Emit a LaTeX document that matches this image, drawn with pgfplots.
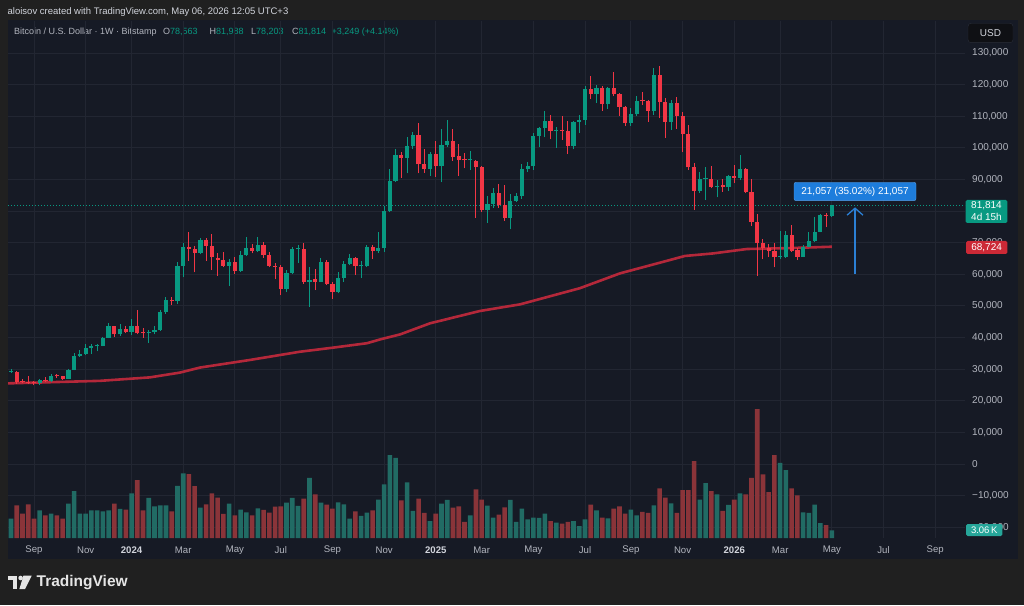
\documentclass[border=0pt]{standalone}
\usepackage{fontspec}
\setmainfont{Liberation Sans}
\usepackage{pgfplots}
\pgfplotsset{compat=1.18}
\usepackage{pgfplotstable}
\usetikzlibrary{arrows.meta}

\definecolor{outerbg}{HTML}{202020}
\definecolor{panelbg}{HTML}{161A25}
\definecolor{gridc}{HTML}{222632}
\definecolor{tvtext}{HTML}{B2B5BE}
\definecolor{tvbright}{HTML}{D1D4DC}
\definecolor{tvgreen}{HTML}{089981}
\definecolor{tvred}{HTML}{F23645}
\definecolor{volgreen}{HTML}{216B64}
\definecolor{volred}{HTML}{8A3439}
\definecolor{maline}{HTML}{B4283A}
\definecolor{lblred}{HTML}{CC2936}
\definecolor{lblteal}{HTML}{26A69A}
\definecolor{tvblue}{HTML}{1E7DDC}
\definecolor{arrowblue}{HTML}{2B7FD4}
\definecolor{usdbg}{HTML}{0F1014}
\definecolor{usdborder}{HTML}{2A2E39}

\newcommand\fs[1]{\fontsize{#1}{#1}\selectfont}

% weekly candles, week index i = 0 is the week of 7 Aug 2023; V in thousands of BTC
\pgfplotstableread{
i O H L C V
0 29050 29950 28750 29250 7.7
5 25650 26900 24900 26450 11.0
7 26200 28600 26000 27900 9.7
10 26900 30200 26800 29700 13.7
11 29700 35100 29600 34200 18.6
12 34200 35900 33900 34800 9.7
13 34800 37900 34500 36600 9.7
14 36600 38000 34900 37200 11.0
15 37200 38100 35600 37400 11.0
16 37300 40300 37200 39800 10.6
17 39800 44500 39700 43500 11.0
19 41000 44400 40600 42700 11.6
21 41900 45900 40800 43600 17.7
24 41400 42300 38200 41600 16.0
25 41700 43800 41000 42400 12.6
26 42300 48600 42100 48000 13.0
27 48000 52700 47400 51900 13.0
29 51500 64000 50700 62700 20.7
30 62700 69800 59000 68500 25.7
33 66800 71600 66300 70800 12.1
38 62700 64700 56300 63800 13.7
40 61200 67500 60700 66000 11.3
41 66000 71900 65800 68300 10.2
43 67500 71900 67000 69300 11.8
48 55400 61400 54300 60500 14.1
49 60500 68600 60000 67900 16.0
50 67900 69300 63500 68000 12.8
52 57700 62400 49600 58200 23.9
54 57700 65000 57500 64000 14.1
57 54500 60600 54000 58900 14.2
58 58900 64100 57500 63300 13.4
59 63300 66500 62800 65300 7.7
61 62500 64300 58800 62700 8.8
62 62700 69400 62400 68600 10.1
64 67500 73300 66800 68200 15.3
65 68200 81500 66900 80000 21.3
66 80000 93400 79600 89500 33.0
67 89500 99500 89300 97600 31.9
69 96900 103300 91900 100700 22.1
70 100700 105000 99500 104100 10.8
73 93200 98800 91100 98000 6.7
75 94100 106000 89100 100900 13.7
76 100900 108800 100400 102300 15.2
80 96000 99100 93000 96300 9.0
83 80400 84900 76300 82300 12.9
84 82300 87400 80900 85600 8.1
87 77900 85300 74200 83300 15.2
88 83300 85800 82800 84900 6.4
89 84900 95000 83900 93300 11.7
90 93300 95400 92500 94100 7.4
91 94100 104600 93000 103800 8.1
92 103800 106500 100400 106200 8.0
93 106200 111700 103300 108600 9.7
95 105300 106700 100100 105700 6.1
98 100600 108600 99500 108100 6.7
99 108100 110400 104800 108800 4.7
100 108800 119500 107200 118600 7.4
102 116900 119900 114300 119000 11.0
104 113800 119400 112300 119000 7.8
108 107800 112700 106900 110600 11.3
109 110600 116400 110000 114900 9.0
112 111700 125200 110500 123000 13.0
115 108300 115100 105700 114100 13.8
120 86500 92500 85800 90000 15.3
121 90000 93800 83500 90200 21.8
123 87700 89800 84300 88000 17.3
125 87500 91400 86500 91100 13.2
127 90600 97700 89800 93200 17.7
134 65400 73800 64700 65800 29.9
135 65600 73800 65300 72400 27.0
138 65600 69300 65400 68700 10.2
139 68700 73500 68500 70500 10.0
140 70500 78000 70300 73500 13.3
141 73500 79000 73300 78700 5.9
143 78563 81988 78203 81814 3.06
}\upT

\pgfplotstableread{
i O H L C V
1 29250 29500 25400 26000 13.0
2 26050 26800 25500 25850 9.7
3 25900 27800 25300 25750 13.4
4 25800 26100 24900 25650 7.7
6 26500 27400 26000 26200 9.0
8 27950 28500 27200 27750 9.0
9 27750 27900 26600 26900 7.7
18 43500 43600 40200 41000 13.7
20 42700 43600 41300 41900 11.3
22 43600 48700 41000 41300 23.0
23 41500 43100 39900 41300 11.0
28 51900 52700 50300 51500 10.6
31 68500 73500 64300 68100 25.4
32 68000 68900 60600 66800 20.6
34 70800 71500 64300 69000 13.4
35 69000 72700 61300 65400 17.7
36 65300 66700 59600 64500 16.1
37 64500 67000 62200 62700 9.6
39 63800 65500 60200 61200 9.0
42 68200 69600 66600 67500 9.0
44 69300 70200 65300 66100 11.2
45 66100 66900 62200 62700 10.1
46 62700 63500 58400 62400 12.5
47 62400 63100 53500 55400 12.6
51 68000 69800 57000 57700 15.7
53 58500 61600 55000 57700 17.3
55 64000 64500 56600 56900 13.3
56 56900 57600 52300 54500 11.7
60 65300 65600 59800 62500 10.6
63 68600 69400 64800 67500 11.0
68 97600 98600 90600 96900 15.0
71 104100 108000 91900 94800 15.7
72 94800 99500 92200 93200 10.0
74 98000 102300 90900 94100 9.7
77 102300 106000 95800 97200 12.1
78 97400 101100 91100 96200 12.6
79 96300 98300 93500 96000 6.4
81 95700 96000 77900 93900 19.3
82 93900 94400 79800 80400 15.3
85 85600 88500 80900 81900 9.3
86 81900 88300 76900 77900 12.2
94 108600 110400 102700 105300 6.7
96 105700 110200 102500 105400 5.7
97 105400 108500 98100 100600 6.4
101 118600 122800 115400 116900 13.3
103 119000 119600 111700 113800 8.1
105 119000 124100 116300 116900 11.7
106 116900 117500 110200 113000 12.6
107 113000 113300 106900 107800 9.7
110 115200 117600 113600 114900 10.4
111 114900 115200 108300 111700 10.0
113 123000 125900 109300 114600 19.7
114 114600 115700 103200 108300 16.1
116 114100 116200 106000 110100 10.0
117 110100 111200 98600 104400 19.0
118 104400 107300 93000 93800 19.0
119 93800 95300 80300 86500 30.6
122 90200 94200 87200 87700 18.6
124 88300 90000 86100 87500 10.8
126 91100 94600 88800 90600 15.3
128 93200 93500 85600 86100 17.3
129 86100 90000 75300 76700 23.9
130 76700 79100 59500 70000 51.3
131 70000 71100 64700 68200 25.3
132 68200 69600 65400 67400 18.2
133 67400 69800 62200 65400 33.0
136 72400 75600 67200 67500 19.7
137 67700 68200 64500 65600 17.0
142 78700 79300 74900 78563 5.1
}\downT

\begin{document}
\begin{tikzpicture}[x=1pt,y=1pt]
\useasboundingbox (0,0) rectangle (1024,605);
\fill[outerbg] (0,0) rectangle (1024,605);
\fill[panelbg] (7.5,46) rectangle (1018,584.5);

% header
\node[anchor=west, inner sep=0pt, text=tvbright, font=\fs{9.5}] at (7.5,593) {aloisov created with TradingView.com, May 06, 2026 12:05 UTC+3};
\node[anchor=west, inner sep=0pt, text=tvtext, font=\fs{9}] at (14,573) {Bitcoin / U.S. Dollar · 1W · Bitstamp};
\node[anchor=west, inner sep=0pt, text=tvtext, font=\fs{9}] at (163,573) {O\textcolor{tvgreen}{78,563}};
\node[anchor=west, inner sep=0pt, text=tvtext, font=\fs{9}] at (209.5,573) {H\textcolor{tvgreen}{81,988}};
\node[anchor=west, inner sep=0pt, text=tvtext, font=\fs{9}] at (251,573) {L\textcolor{tvgreen}{78,203}};
\node[anchor=west, inner sep=0pt, text=tvtext, font=\fs{9}] at (292,573) {C\textcolor{tvgreen}{81,814}};
\node[anchor=west, inner sep=0pt, text=tvgreen, font=\fs{9}] at (331.5,573) {+3,249 (+4.14\%)};

\begin{axis}[
  at={(8pt,67pt)}, anchor=south west, scale only axis,
  width=957pt, height=517pt,
  xmin=-0.523, xmax=166.2, ymin=-23406, ymax=140121,
  axis line style={draw=none}, tick style={draw=none}, major tick length=0pt,
  scaled y ticks=false, scaled x ticks=false,
  grid=major, grid style={gridc, line width=0.9pt},
  xtick={4,13,21,30,39,47,56,65,74,82,91,100,108,117,126,134,143,152,161},
  xticklabels={Sep,Nov,\textbf{\textcolor{tvbright}{2024}},Mar,May,Jul,Sep,Nov,\textbf{\textcolor{tvbright}{2025}},Mar,May,Jul,Sep,Nov,\textbf{\textcolor{tvbright}{2026}},Mar,May,Jul,Sep},
  xticklabel style={anchor=center, inner sep=0pt, yshift=-12pt, font=\fs{9.6}, text=tvtext},
  ytick={-20000,-10000,0,10000,20000,30000,40000,50000,60000,70000,80000,90000,100000,110000,120000,130000},
  yticklabels={{−20,000},{−10,000},{0},{10,000},{20,000},{30,000},{40,000},{50,000},{60,000},{70,000},{},{90,000},{100,000},{110,000},{120,000},{130,000}},
  yticklabel pos=right,
  yticklabel style={anchor=west, inner sep=0pt, xshift=7pt, font=\fs{10}, text=tvtext},
]
% moving average
\addplot[maline, line width=2.6pt] coordinates {
(-0.6,25500) (15.5,26300) (24.2,27400) (29.4,28900) (32.9,30500) (41.6,32900)
(50.3,35500) (56.1,36800) (62,38200) (64.3,39400) (67.8,41000) (73,44500)
(81.7,48400) (88.7,50500) (99.1,55600) (106.1,60300) (113.1,63700) (117.4,65800)
(122.3,66600) (128.2,68000) (135.7,68300) (143,68724)};
% last price line
\addplot[tvgreen, line width=0.8pt, dash pattern=on 1pt off 2pt] coordinates {(-1,81814) (167,81814)};
% wicks
\addplot[draw=none, no markers, error bars/.cd, y dir=plus, y explicit, error mark=none,
  error bar style={draw=tvgreen, line width=1pt}]
  table[x=i, y=L, y error expr=\thisrow{H}-\thisrow{L}] \upT;
\addplot[draw=none, no markers, error bars/.cd, y dir=plus, y explicit, error mark=none,
  error bar style={draw=tvred, line width=1pt}]
  table[x=i, y=L, y error expr=\thisrow{H}-\thisrow{L}] \downT;
% bodies
\addplot[draw=none, no markers, error bars/.cd, y dir=plus, y explicit, error mark=none,
  error bar style={draw=tvgreen, line width=4.2pt}]
  table[x=i, y=O, y error expr={max(\thisrow{C}-\thisrow{O},330)}] \upT;
\addplot[draw=none, no markers, error bars/.cd, y dir=plus, y explicit, error mark=none,
  error bar style={draw=tvred, line width=4.2pt}]
  table[x=i, y=C, y error expr={max(\thisrow{O}-\thisrow{C},330)}] \downT;
% measure arrow
\addplot[arrowblue, line width=1.3pt, -{Straight Barb[length=7pt,width=16pt]}] coordinates {(147.04,60128) (147.04,81185)};
\end{axis}

\begin{axis}[
  at={(8pt,67pt)}, anchor=south west, scale only axis,
  width=957pt, height=517pt,
  xmin=-0.523, xmax=166.2, ymin=0, ymax=205.6,
  hide axis, scaled y ticks=false, ybar, bar width=0.8,
]
\addplot[fill=volgreen, draw=none, bar shift=0pt] table[x=i, y=V] \upT;
\addplot[fill=volred, draw=none, bar shift=0pt] table[x=i, y=V] \downT;
\end{axis}

% measure label
\node[fill=tvblue, draw=tvblue!75!white, rounded corners=2pt, minimum width=122pt, minimum height=18.4pt, inner sep=0pt, text=white, font=\fs{10}] at (855,413.5) {21,057 (35.02\%) 21,057};

% right scale labels
\node[fill=usdbg, draw=usdborder, rounded corners=3pt, minimum width=45pt, minimum height=19.4pt, inner sep=0pt, text=tvbright, font=\fs{10}] at (990.5,572) {USD};
\fill[tvgreen, rounded corners=1.5pt] (965.7,382) rectangle (1007.3,405);
\node[text=white, font=\fs{10}, inner sep=0pt] at (986.5,399.5) {81,814};
\node[text=white, font=\fs{10}, inner sep=0pt] at (986.5,388.3) {4d 15h};
\fill[lblred, rounded corners=1.5pt] (966,351) rectangle (1007.3,364);
\node[text=white, font=\fs{10}, inner sep=0pt] at (986.6,357.5) {68,724};
\fill[lblteal, rounded corners=1.5pt] (966,69) rectangle (1002.3,81);
\node[text=white, font=\fs{9.5}, inner sep=0pt] at (984.2,75) {3.06\,K};

% TradingView logo
\fill[white!90!black] (8.3,29.3) rectangle (17.3,24.6);
\fill[white!90!black] (12.8,29.3) rectangle (17.3,16);
\fill[white!90!black] (20.6,27) circle (2.3);
\fill[white!90!black] (23.4,29.3) -- (31.7,29.3) -- (25,16) -- (19.4,16) -- cycle;
\node[anchor=west, inner sep=0pt, text=white!90!black, font=\fs{15.5}\bfseries] at (36.5,22.8) {TradingView};
\end{tikzpicture}
\end{document}
